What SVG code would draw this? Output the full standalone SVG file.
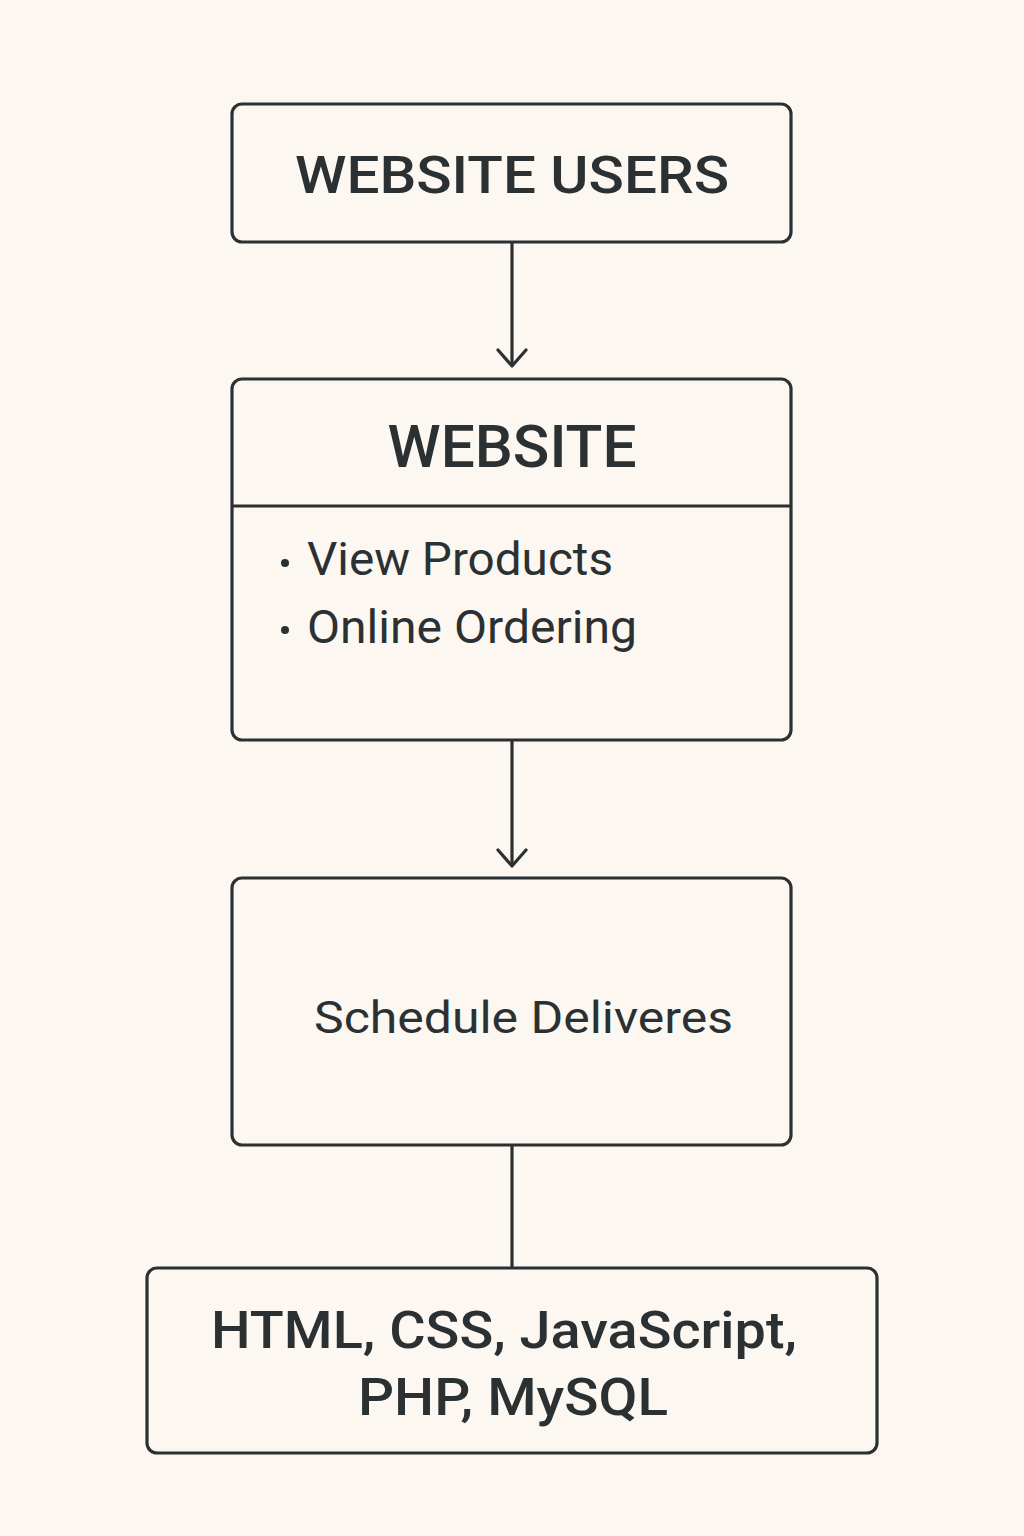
<svg xmlns="http://www.w3.org/2000/svg" width="1024" height="1536" viewBox="0 0 1024 1536">
<style>
.box{fill:#fcf8f1;stroke:#2b3133;stroke-width:3.2}
.ln{stroke:#2b3133;stroke-width:3.2;fill:none}
.t{font-family:Roboto,"Liberation Sans",sans-serif;fill:#2b3133}
.b{font-weight:500}
</style>
<defs>
<marker id="arr" viewBox="0 0 22 32" refX="19" refY="16" markerWidth="22" markerHeight="32" markerUnits="userSpaceOnUse" orient="auto">
<path d="M3,2 L19,16 L3,30" fill="none" stroke="#2b3133" stroke-width="3.2" stroke-linecap="round" stroke-linejoin="round"/>
</marker>
</defs>
<rect width="1024" height="1536" fill="#fcf8f1"/>
<g id="connectors">
<line class="ln" x1="512" y1="242" x2="512" y2="366" marker-end="url(#arr)"/>
<line class="ln" x1="512" y1="740" x2="512" y2="866" marker-end="url(#arr)"/>
<line class="ln" x1="512" y1="1145" x2="512" y2="1268"/>
</g>
<g id="users">
<rect class="box" x="232" y="104" width="559" height="138" rx="10"/>
<text class="t b" x="512" y="193" font-size="52" text-anchor="middle" textLength="434" lengthAdjust="spacingAndGlyphs">WEBSITE USERS</text>
</g>
<g id="website">
<rect class="box" x="232" y="379" width="559" height="361" rx="10"/>
<line class="ln" x1="232" y1="506" x2="791" y2="506"/>
<text class="t b" x="512" y="467" font-size="60" text-anchor="middle" textLength="249" lengthAdjust="spacingAndGlyphs">WEBSITE</text>
<circle cx="285" cy="563" r="4" fill="#2b3133"/>
<circle cx="285" cy="630" r="4" fill="#2b3133"/>
<text class="t" x="307" y="575" font-size="46" textLength="306" lengthAdjust="spacingAndGlyphs">View Products</text>
<text class="t" x="307" y="643" font-size="46" textLength="330" lengthAdjust="spacingAndGlyphs">Online Ordering</text>
</g>
<g id="schedule">
<rect class="box" x="232" y="878" width="559" height="267" rx="10"/>
<text class="t" x="314" y="1033" font-size="44" textLength="419" lengthAdjust="spacingAndGlyphs">Schedule Deliveres</text>
</g>
<g id="tech">
<rect class="box" x="147" y="1268" width="730" height="185" rx="10"/>
<text class="t b" x="504" y="1348" font-size="52" text-anchor="middle" textLength="586" lengthAdjust="spacingAndGlyphs">HTML, CSS, JavaScript,</text>
<text class="t b" x="513" y="1415" font-size="52" text-anchor="middle" textLength="310" lengthAdjust="spacingAndGlyphs">PHP, MySQL</text>
</g>
</svg>
